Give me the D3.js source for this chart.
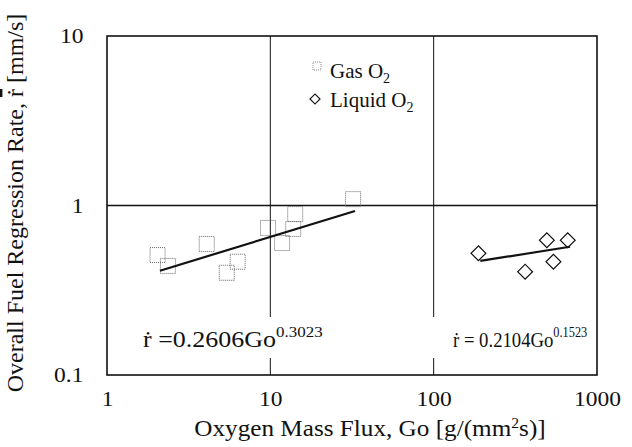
<!DOCTYPE html>
<html>
  <body style="margin:0;background:#fff">
    <style>
      text { font-family: 'Liberation Serif', 'Times New Roman', serif; fill: #111; }
    </style>
    <script src="https://d3js.org/d3.v7.min.js"></script>
    <script type="text/javascript">
      const width = 632;
      const height = 447;
      const margin = { top: 36, right: 35, bottom: 72, left: 107 };
      const stretch = 1.12; // the scanned figure is a bit wider than tall

      // gas oxygen tests (Go, regression rate)
      const gasGo = [2.04, 2.36, 4.08, 5.41, 6.31, 9.68, 11.8, 13.8, 14.2, 32.1];
      const gasRate = [0.51, 0.44, 0.593, 0.401, 0.466, 0.737, 0.601, 0.727, 0.89, 1.09];
      // liquid oxygen tests
      const liqGo = [188, 363, 493, 541, 662];
      const liqRate = [0.523, 0.407, 0.624, 0.466, 0.624];
      // fitted lines, end points
      const gasFitGo = [2.11, 33];
      const gasFitRate = [0.412, 0.928];
      const liqFitGo = [193, 684];
      const liqFitRate = [0.471, 0.571];
      const xTicks = [1, 10, 100, 1000];
      const yTicks = [0.1, 1, 10];
      const xGrid = [10, 100];
      const yGrid = [1];

      const scaleX = d3.scaleLog()
        .domain([1, 1000])
        .range([margin.left, width - margin.right]);
      const scaleY = d3.scaleLog()
        .domain([0.1, 10])
        .range([height - margin.bottom, margin.top]);

      const svg = d3.select('body')
        .append('svg')
        .attr('width', width)
        .attr('height', height);

      // grid
      svg.selectAll('.gx').data(xGrid).enter().append('line')
        .attr('x1', (d) => scaleX(d)).attr('x2', (d) => scaleX(d))
        .attr('y1', margin.top).attr('y2', height - margin.bottom)
        .attr('stroke', '#111').attr('stroke-width', 1);
      svg.selectAll('.gy').data(yGrid).enter().append('line')
        .attr('x1', margin.left).attr('x2', width - margin.right)
        .attr('y1', (d) => scaleY(d)).attr('y2', (d) => scaleY(d))
        .attr('stroke', '#111').attr('stroke-width', 1.5);

      // axes without ticks
      const axisBottom = d3.axisBottom(scaleX).tickValues(xTicks).tickSize(0).tickPadding(16).tickFormat(d3.format('d'));
      const gx = svg.append('g')
        .attr('transform', `translate(0, ${height - margin.bottom})`)
        .call(axisBottom);
      const axisLeft = d3.axisLeft(scaleY).tickValues(yTicks).tickSize(0).tickPadding(21).tickFormat((d) => String(d));
      const gy = svg.append('g')
        .attr('transform', `translate(${margin.left}, 0)`)
        .call(axisLeft);
      [gx, gy].forEach((g) => {
        g.select('.domain').remove();
        g.selectAll('text')
          .style('font-family', 'Liberation Serif').style('font-size', '21px')
          .attr('fill', '#111')
          .attr('transform', `scale(${stretch},1)`);
      });

      // white boxes behind equations
      svg.append('rect').attr('x', 128).attr('y', 317).attr('width', 205).attr('height', 41).attr('fill', '#fff');
      svg.append('rect').attr('x', 420).attr('y', 317).attr('width', 165).attr('height', 41).attr('fill', '#fff');

      // frame
      svg.append('rect')
        .attr('x', margin.left).attr('y', margin.top)
        .attr('width', width - margin.left - margin.right)
        .attr('height', height - margin.top - margin.bottom)
        .attr('fill', 'none').attr('stroke', '#111').attr('stroke-width', 1.6);

      // gas squares
      const gas = gasGo.map((g, i) => ({ x: g, y: gasRate[i] }));
      svg.selectAll('.sq').data(gas).enter().append('rect')
        .attr('x', (d) => scaleX(d.x) - 7.5)
        .attr('y', (d) => scaleY(d.y) - 7.5)
        .attr('width', 15).attr('height', 15)
        .attr('fill', 'none').attr('stroke', '#666')
        .attr('stroke-width', 1).attr('stroke-dasharray', '1,1');

      // liquid diamonds
      const liq = liqGo.map((g, i) => ({ x: g, y: liqRate[i] }));
      const diamond = d3.symbol().type(d3.symbolSquare).size(110);
      svg.selectAll('.dm').data(liq).enter().append('path')
        .attr('d', diamond)
        .attr('transform', (d) => `translate(${scaleX(d.x)}, ${scaleY(d.y)}) rotate(45)`)
        .attr('fill', 'none').attr('stroke', '#111').attr('stroke-width', 1.2);

      // fit lines
      const line = d3.line().x((d) => scaleX(d[0])).y((d) => scaleY(d[1]));
      svg.append('path').attr('d', line(gasFitGo.map((g, i) => [g, gasFitRate[i]])))
        .attr('stroke', '#111').attr('stroke-width', 2.2).attr('fill', 'none');
      svg.append('path').attr('d', line(liqFitGo.map((g, i) => [g, liqFitRate[i]])))
        .attr('stroke', '#111').attr('stroke-width', 2.2).attr('fill', 'none');

      function hText(x, y, size, sx) {
        return svg.append('text')
          .attr('transform', `translate(${x}, ${y}) scale(${sx}, 1)`)
          .style('font-size', size + 'px');
      }

      // equations
      const eq1 = hText(143, 347, 23, 1.13);
      eq1.append('tspan').text('\u1E59 =0.2606Go');
      eq1.append('tspan').attr('dy', -10).style('font-size', '15px').text('0.3023');
      const eq2 = hText(453, 347, 22, 0.85);
      eq2.append('tspan').text('\u1E59 = 0.2104Go');
      eq2.append('tspan').attr('dy', -10).style('font-size', '14.5px').text('0.1523');

      // legend
      svg.append('rect').attr('x', 313).attr('y', 62).attr('width', 8).attr('height', 8)
        .attr('fill', 'none').attr('stroke', '#888').attr('stroke-dasharray', '1,1');
      const l1 = hText(330, 78, 21, 1);
      l1.append('tspan').text('Gas O');
      l1.append('tspan').attr('dy', 5).style('font-size', '14px').text('2');
      svg.append('path').attr('d', d3.symbol().type(d3.symbolSquare).size(50))
        .attr('transform', 'translate(315, 99) rotate(45)')
        .attr('fill', 'none').attr('stroke', '#111').attr('stroke-width', 1.2);
      const l2 = hText(330, 107, 21, 1);
      l2.append('tspan').text('Liquid O');
      l2.append('tspan').attr('dy', 5).style('font-size', '14px').text('2');

      // axis titles
      const xt = hText(370, 436, 22.5, stretch).attr('text-anchor', 'middle');
      xt.append('tspan').text('Oxygen Mass Flux, Go [g/(mm');
      xt.append('tspan').attr('dy', -8).style('font-size', '14px').text('2');
      xt.append('tspan').attr('dy', 8).text('s)]');

      const yt = svg.append('text')
        .attr('transform', 'translate(23, 203) rotate(-90)')
        .attr('text-anchor', 'middle').style('font-size', '24px');
      yt.append('tspan').text('Overall Fuel Regression Rate, ');
      yt.append('tspan').style('text-decoration', 'overline').text('\u1E59');
      yt.append('tspan').text(' [mm/s]');
    </script>
  </body>
</html>
